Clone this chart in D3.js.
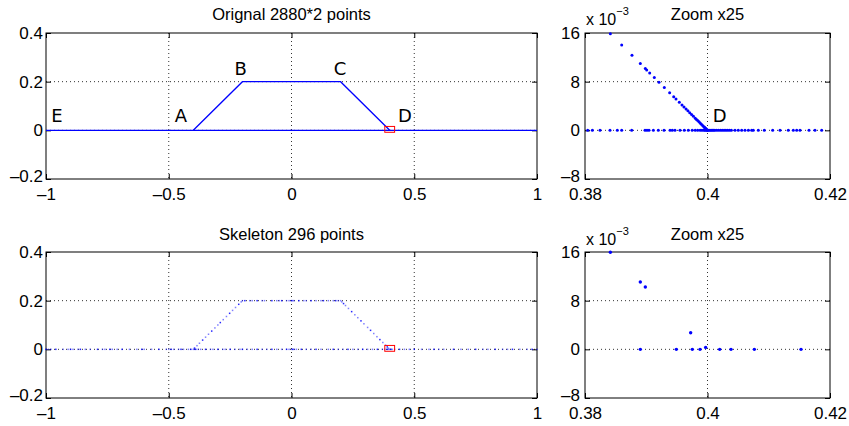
<!DOCTYPE html>
<html>
<head>
<meta charset="utf-8">
<script src="https://cdn.jsdelivr.net/npm/d3@7"></script>
<style>
  body { margin: 0; background: #fff; }
  text { font-family: "Liberation Sans", Arial, sans-serif; fill: #000; }
</style>
</head>
<body>
<div class="viewbox"></div>
<script>
// ---- data ----
const mainXTicks = [-1, -0.5, 0, 0.5, 1];
const mainXLabels = ["\u20131", "\u20130.5", "0", "0.5", "1"];
const mainYTicks = [-0.2, 0, 0.2, 0.4];
const mainYLabels = ["\u20130.2", "0", "0.2", "0.4"];
const zoomXTicks = [0.38, 0.4, 0.42];
const zoomXLabels = ["0.38", "0.4", "0.42"];
const zoomYTicks = [-0.008, 0, 0.008, 0.016];
const zoomYLabels = ["\u20138", "0", "8", "16"];

// original curve (vertices of the polylines)
const baseLine = [[-1, 0], [1, 0]];
const trapezoid = [[-0.4, 0], [-0.2, 0.2], [0.2, 0.2], [0.4, 0]];
const letters = [["E", -0.955, 0.035], ["A", -0.45, 0.035], ["B", -0.207, 0.227],
                 ["C", 0.198, 0.227], ["D", 0.462, 0.035]];
const zoomBox = [0.38, 0.42, -0.008, 0.016];

// original points near D
const origZoomDiag = [[0.38414, 0.01586], [0.38599, 0.01401], [0.38767, 0.01233], [0.38903, 0.01097],
  [0.38985, 0.01015], [0.39007, 0.00993], [0.39056, 0.00944], [0.39132, 0.00868], [0.39208, 0.00792],
  [0.39295, 0.00705], [0.39382, 0.00618], [0.39448, 0.00552], [0.39486, 0.00514], [0.3954, 0.0046],
  [0.39584, 0.00416], [0.39616, 0.00384], [0.3965, 0.0035], [0.3968, 0.0032], [0.3971, 0.0029],
  [0.3974, 0.0026], [0.3977, 0.0023], [0.398, 0.002], [0.3982, 0.0018], [0.3984, 0.0016],
  [0.3986, 0.0014], [0.3988, 0.0012], [0.399, 0.001], [0.3992, 0.0008], [0.3994, 0.0006],
  [0.3995, 0.0005], [0.3996, 0.0004], [0.3997, 0.0003], [0.3998, 0.0002], [0.3999, 0.0001], [0.4, 0]];
const origZoomBaseX = [0.38044, 0.3812, 0.38245, 0.38408, 0.38528, 0.38599, 0.38762, 0.3898, 0.39012,
  0.39045, 0.39116, 0.39197, 0.3929, 0.39388, 0.39425, 0.39469, 0.39551, 0.39621, 0.39687, 0.3975,
  0.398, 0.3984, 0.3988, 0.3991, 0.3994, 0.3996, 0.3998, 0.4, 0.4002, 0.4004, 0.4006, 0.4008, 0.401,
  0.4012, 0.4015, 0.4018, 0.4021, 0.4024, 0.4027, 0.403, 0.4033, 0.4036, 0.4039, 0.40449, 0.40503,
  0.40558, 0.40612, 0.40667, 0.40721, 0.40748, 0.4083, 0.40928, 0.41064, 0.41184, 0.41319, 0.41401,
  0.41456, 0.4151, 0.41657, 0.41755, 0.41864];

// skeleton points
const skelBaseX = [-1, -0.99, -0.98, -0.96, -0.93, -0.91, -0.9, -0.89, -0.87, -0.86, -0.84, -0.82,
  -0.79, -0.77, -0.76, -0.74, -0.73, -0.71, -0.69, -0.66, -0.63, -0.61, -0.6, -0.57, -0.54, -0.51,
  -0.5, -0.49, -0.48, -0.46, -0.45, -0.44, -0.42, -0.41, -0.4, -0.395, -0.39, -0.38, -0.37, -0.35,
  -0.33, -0.32, -0.3, -0.28, -0.27, -0.25, -0.23, -0.21, -0.2, -0.18, -0.16, -0.14, -0.12, -0.1,
  -0.08, -0.06, -0.04, -0.02, -0.01, 0, 0.005, 0.01, 0.02, 0.04, 0.06, 0.08, 0.1, 0.12, 0.15, 0.17,
  0.19, 0.21, 0.23, 0.25, 0.27, 0.29, 0.31, 0.33, 0.35, 0.37, 0.38, 0.39, 0.395, 0.4, 0.405, 0.41,
  0.42, 0.44, 0.46, 0.48, 0.5, 0.53, 0.56, 0.58, 0.6, 0.62, 0.66, 0.69, 0.72, 0.75, 0.78, 0.8, 0.83,
  0.86, 0.88, 0.9, 0.93, 0.96, 0.98, 1];
const skelTopX = [-0.2, -0.19, -0.17, -0.16, -0.14, -0.12, -0.11, -0.08, -0.06, -0.05, -0.04, -0.02,
  -0.01, 0, 0.005, 0.01, 0.03, 0.05, 0.06, 0.08, 0.1, 0.12, 0.13, 0.15, 0.17, 0.18, 0.19, 0.2];
const skelLeft = [[-0.395, 0.005], [-0.385, 0.015], [-0.375, 0.025], [-0.362, 0.038], [-0.35, 0.05],
  [-0.338, 0.062], [-0.325, 0.075], [-0.312, 0.088], [-0.3, 0.1], [-0.29, 0.11], [-0.278, 0.122],
  [-0.265, 0.135], [-0.252, 0.148], [-0.24, 0.16], [-0.228, 0.172], [-0.215, 0.185], [-0.205, 0.195]];
const skelRight = [[0.205, 0.195], [0.212, 0.188], [0.22, 0.18], [0.232, 0.168], [0.245, 0.155],
  [0.258, 0.142], [0.27, 0.13], [0.283, 0.117], [0.295, 0.105], [0.31, 0.09], [0.322, 0.078],
  [0.335, 0.065], [0.348, 0.052], [0.36, 0.04], [0.372, 0.028], [0.383, 0.017], [0.39, 0.01], [0.395, 0.005]];
const skelZoom = [[0.38414, 0.01595], [0.38903, 0.01106], [0.38985, 0.01024], [0.39725, 0.00273],
  [0.38903, 0], [0.39491, 0], [0.39752, 0], [0.39878, 0], [0.3997, 0.00032], [0.40199, 0],
  [0.40384, 0], [0.40765, 0], [0.41527, 0]];

// ---- drawing ----
const svg = d3.select(".viewbox").append("svg")
  .attr("width", 849).attr("height", 426);

function panel(box, xd, yd, xt, xl, yt, yl, title, titleY, ypad) {
  const x = d3.scaleLinear().domain(xd).range([box.l, box.r]);
  const y = d3.scaleLinear().domain(yd).range([box.b, box.t]);
  const g = svg.append("g");

  // dotted grid
  xt.slice(1, -1).forEach(v => g.append("line")
    .attr("x1", x(v)).attr("x2", x(v)).attr("y1", box.t).attr("y2", box.b)
    .attr("stroke", "#333").attr("stroke-dasharray", "1,3"));
  yt.slice(1, -1).forEach(v => g.append("line")
    .attr("y1", y(v)).attr("y2", y(v)).attr("x1", box.l).attr("x2", box.r)
    .attr("stroke", "#333").attr("stroke-dasharray", "1,3"));

  const fx = (d, i) => xl[i], fy = (d, i) => yl[i];
  const ax = [
    g.append("g").attr("transform", `translate(0,${box.b})`)
      .call(d3.axisBottom(x).tickValues(xt).tickFormat(fx).tickSize(-5).tickPadding(9)),
    g.append("g").attr("transform", `translate(0,${box.t})`)
      .call(d3.axisTop(x).tickValues(xt).tickFormat("").tickSize(-5)),
    g.append("g").attr("transform", `translate(${box.l},0)`)
      .call(d3.axisLeft(y).tickValues(yt).tickFormat(fy).tickSize(-5).tickPadding(ypad)),
    g.append("g").attr("transform", `translate(${box.r},0)`)
      .call(d3.axisRight(y).tickValues(yt).tickFormat("").tickSize(-5))
  ];
  ax.forEach(a => {
    a.select(".domain").remove();
    a.selectAll("text").style("font-size", "17px").attr("font-family", null);
  });
  // lowest y label sits just above the first x label
  ax[2].selectAll("text").filter((d, i) => i === 0).attr("dy", "0.12em");

  g.append("rect").attr("x", box.l).attr("y", box.t)
    .attr("width", box.r - box.l).attr("height", box.b - box.t)
    .attr("fill", "none").attr("stroke", "#000");

  g.append("text").attr("x", (box.l + box.r) / 2).attr("y", titleY)
    .attr("text-anchor", "middle").style("font-size", "16.5px").text(title);

  return { x, y, g };
}

function exponent(box, yBase) {
  const t = svg.append("text").attr("x", box.l + 1).attr("y", yBase).style("font-size", "16px");
  t.append("tspan").text("x 10");
  t.append("tspan").attr("dy", -10).style("font-size", "11px").text("\u22123");
}

const L1 = { l: 46, r: 537, t: 33, b: 179 };
const R1 = { l: 585, r: 830, t: 33, b: 179 };
const L2 = { l: 46, r: 537, t: 252, b: 398 };
const R2 = { l: 585, r: 830, t: 252, b: 398 };

// top left: original
let p = panel(L1, [-1, 1], [-0.2, 0.4], mainXTicks, mainXLabels, mainYTicks, mainYLabels,
  "Orignal 2880*2 points", 20, 3);
const line = d3.line().x(d => p.x(d[0])).y(d => p.y(d[1]));
p.g.append("path").attr("d", line(baseLine)).attr("fill", "none").attr("stroke", "#0000ff").attr("stroke-width", 1.1);
p.g.append("path").attr("d", line(trapezoid)).attr("fill", "none").attr("stroke", "#0000ff").attr("stroke-width", 1.3);
p.g.append("rect").attr("x", p.x(zoomBox[0])).attr("y", p.y(zoomBox[3]))
  .attr("width", p.x(zoomBox[1]) - p.x(zoomBox[0])).attr("height", p.y(zoomBox[2]) - p.y(zoomBox[3]))
  .attr("fill", "none").attr("stroke", "#ff0000");
p.g.selectAll(".lab").data(letters).enter().append("text")
  .attr("x", d => p.x(d[1])).attr("y", d => p.y(d[2]))
  .attr("text-anchor", "middle").style("font-family", "'DejaVu Sans', sans-serif")
  .style("font-size", "18px").text(d => d[0]);

// top right: zoom of original
p = panel(R1, [0.38, 0.42], [-0.008, 0.016], zoomXTicks, zoomXLabels, zoomYTicks, zoomYLabels, "Zoom x25", 20, 5);
exponent(R1, 25);
const origZoom = origZoomDiag.concat(origZoomBaseX.map(v => [v, 0]));
p.g.selectAll(".dot").data(origZoom).enter().append("circle")
  .attr("cx", d => p.x(d[0])).attr("cy", d => p.y(d[1])).attr("r", 1.5).attr("fill", "#0000ff");
p.g.append("text").attr("x", p.x(0.402)).attr("y", p.y(0.0014)).attr("text-anchor", "middle")
  .style("font-family", "'DejaVu Sans', sans-serif").style("font-size", "18px").text("D");

// bottom left: skeleton
p = panel(L2, [-1, 1], [-0.2, 0.4], mainXTicks, mainXLabels, mainYTicks, mainYLabels,
  "Skeleton 296 points", 240, 3);
const skel = skelBaseX.map(v => [v, 0]).concat(skelTopX.map(v => [v, 0.2]), skelLeft, skelRight);
p.g.selectAll(".sk").data(skel).enter().append("rect")
  .attr("x", d => p.x(d[0]) - 0.75).attr("y", d => p.y(d[1]) - 0.75)
  .attr("width", 1.5).attr("height", 1.5).attr("fill", "#0000ff").attr("opacity", (d, i) => i % 3 ? 0.5 : 0.85);
p.g.append("rect").attr("x", p.x(zoomBox[0])).attr("y", p.y(zoomBox[3]))
  .attr("width", p.x(zoomBox[1]) - p.x(zoomBox[0])).attr("height", p.y(zoomBox[2]) - p.y(zoomBox[3]))
  .attr("fill", "none").attr("stroke", "#ff0000");

// bottom right: zoom of skeleton
p = panel(R2, [0.38, 0.42], [-0.008, 0.016], zoomXTicks, zoomXLabels, zoomYTicks, zoomYLabels, "Zoom x25", 240, 5);
exponent(R2, 245);
p.g.selectAll(".dot").data(skelZoom).enter().append("circle")
  .attr("cx", d => p.x(d[0])).attr("cy", d => p.y(d[1])).attr("r", 1.7).attr("fill", "#0000ff");
</script>
</body>
</html>
